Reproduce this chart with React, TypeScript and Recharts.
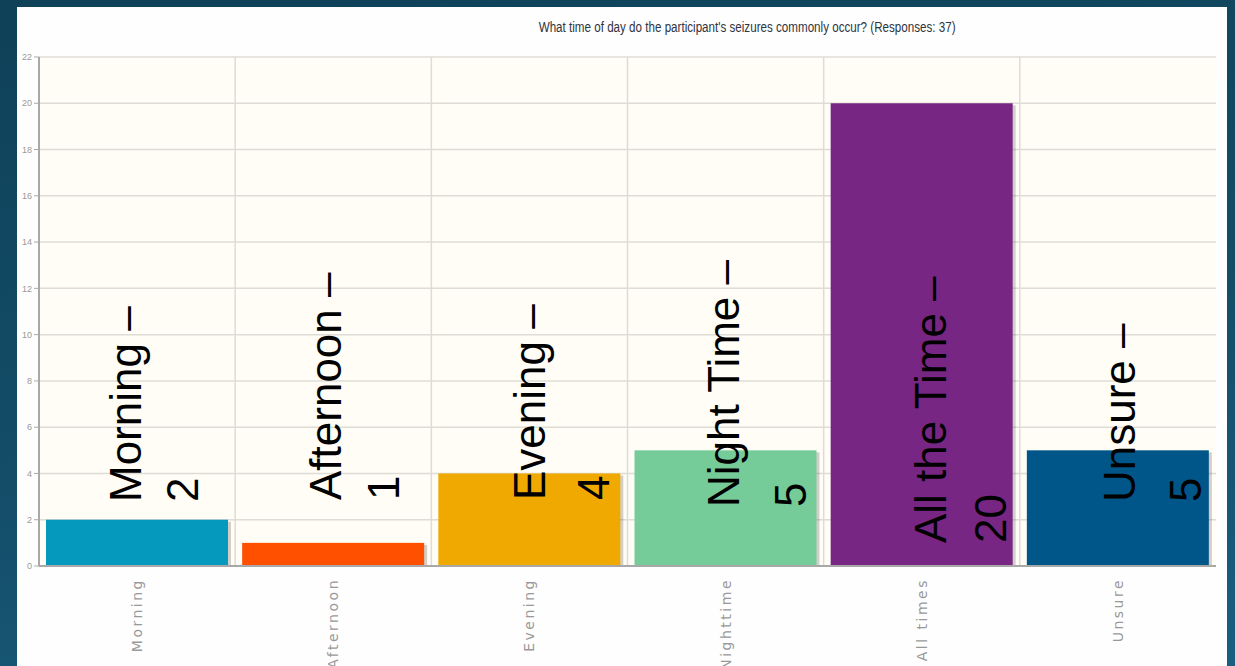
import React from 'react';
import {
  BarChart,
  Bar,
  XAxis,
  YAxis,
  CartesianGrid,
  Cell,
  LabelList,
} from 'recharts';

// chart data
const CATEGORIES = ['Morning', 'Afternoon', 'Evening', 'Nighttime', 'All times', 'Unsure'];
const COUNTS = [2, 1, 4, 5, 20, 5];
const ANNOTATIONS = ['Morning –', 'Afternoon –', 'Evening –', 'Night Time –', 'All the Time –', 'Unsure –'];
const Y_TICKS = [0, 2, 4, 6, 8, 10, 12, 14, 16, 18, 20, 22];
const TITLE = "What time of day do the participant's seizures commonly occur? (Responses: 37)";

// styles
const BAR_COLORS = ['#0499bd', '#ff5000', '#f0a900', '#76cc98', '#772683', '#005589'];
// hand placed slide text boxes: dx from bar centre, gap between lines, lift from the axis
const ANNOT_LAYOUT = [
  { dx: 4, gap: 57, lift: 64 },
  { dx: 8, gap: 58, lift: 66 },
  { dx: 16, gap: 64, lift: 66 },
  { dx: 13, gap: 67, lift: 59 },
  { dx: 24, gap: 60, lift: 23 },
  { dx: 17, gap: 66, lift: 64 },
];

const data = CATEGORIES.map((name, i) => ({
  name,
  count: COUNTS[i],
  annotation: ANNOTATIONS[i],
}));

const ShadowBar = (props: any) => {
  const { x, y, width, height, index } = props;
  if (height <= 0) return null;
  return (
    <g>
      <rect x={x + 3} y={y + 2} width={width} height={height - 2} fill="rgba(0,0,0,0.18)" />
      <rect x={x} y={y} width={width} height={height} fill={BAR_COLORS[index]} />
    </g>
  );
};

const Annotation = (props: any) => {
  const vb = props.viewBox || props;
  const i = ANNOTATIONS.indexOf(props.value);
  if (i < 0) return null;
  const lay = ANNOT_LAYOUT[i];
  const cx = vb.x + vb.width / 2 + lay.dx;
  const bottom = vb.y + vb.height - lay.lift;
  const style = { fontFamily: "'Liberation Sans', Arial, sans-serif", fontSize: 44, fill: '#000' };
  return (
    <g>
      <text transform={`translate(${cx},${bottom}) rotate(-90)`} {...style}>
        {ANNOTATIONS[i]}
      </text>
      <text transform={`translate(${cx + lay.gap},${bottom}) rotate(-90)`} {...style}>
        {COUNTS[i]}
      </text>
    </g>
  );
};

const CategoryTick = (props: any) => {
  const { x, y, payload } = props;
  return (
    <text
      transform={`translate(${x + 5},${y + 4}) rotate(-90)`}
      textAnchor="end"
      fontFamily="'DejaVu Sans', sans-serif"
      fontSize={14}
      letterSpacing={2.5}
      fill="#999"
    >
      {payload.value}
    </text>
  );
};

const App = () => {
  return (
    <div
      style={{
        position: 'absolute',
        left: 0,
        top: 0,
        width: 1235,
        height: 666,
        overflow: 'hidden',
        background: 'linear-gradient(170deg, #0f4158 0%, #134d68 55%, #1a5f80 100%)',
      }}
    >
      <div
        style={{
          position: 'absolute',
          left: 17,
          top: 7,
          width: 1210,
          height: 659,
          background: '#fefefe',
        }}
      >
        <div
          style={{
            position: 'absolute',
            left: 230,
            top: 12,
            width: 1000,
            textAlign: 'center',
            fontFamily: "'Liberation Sans', Arial, sans-serif",
            fontSize: 14,
            color: '#2f3440',
            whiteSpace: 'nowrap',
          }}
        >
          <span style={{ display: 'inline-block', transform: 'scaleX(0.83)' }}>{TITLE}</span>
        </div>
        <BarChart
          width={1210}
          height={659}
          data={data}
          margin={{ top: 50, right: 11, left: 0, bottom: 0 }}
          barCategoryGap={7}
        >
          <CartesianGrid
            fill="#fffdf5"
            stroke="#dedcd6"
            strokeWidth={1.5}
            verticalCoordinatesGenerator={({ offset }: any) =>
              CATEGORIES.map((_, i) => offset.left + (offset.width * i) / CATEGORIES.length)
            }
          />
          <XAxis
            dataKey="name"
            height={100}
            interval={0}
            tick={<CategoryTick />}
            tickLine={false}
            axisLine={{ stroke: '#a8a8a8', strokeWidth: 2 }}
          />
          <XAxis
            xAxisId="top"
            dataKey="name"
            orientation="top"
            height={0}
            tick={false}
            tickLine={false}
            axisLine={{ stroke: '#a5a5a5', strokeWidth: 2 }}
          />
          <YAxis
            width={22}
            domain={[0, 22]}
            ticks={Y_TICKS}
            interval={0}
            tickSize={5}
            tickLine={{ stroke: '#aaa' }}
            axisLine={{ stroke: '#a8a8a8', strokeWidth: 2 }}
            tick={{
              fill: '#999',
              fontSize: 9,
              fontFamily: "'Liberation Sans', sans-serif",
            }}
          />
          <YAxis
            yAxisId="right"
            orientation="right"
            width={0}
            domain={[0, 22]}
            tick={false}
            tickLine={false}
            axisLine={{ stroke: '#a5a5a5', strokeWidth: 2 }}
          />
          <Bar dataKey="count" shape={ShadowBar} isAnimationActive={false}>
            {data.map((d, i) => (
              <Cell key={d.name} fill={BAR_COLORS[i]} />
            ))}
            <LabelList dataKey="annotation" content={<Annotation />} />
          </Bar>
        </BarChart>
      </div>
    </div>
  );
};

export default App;
